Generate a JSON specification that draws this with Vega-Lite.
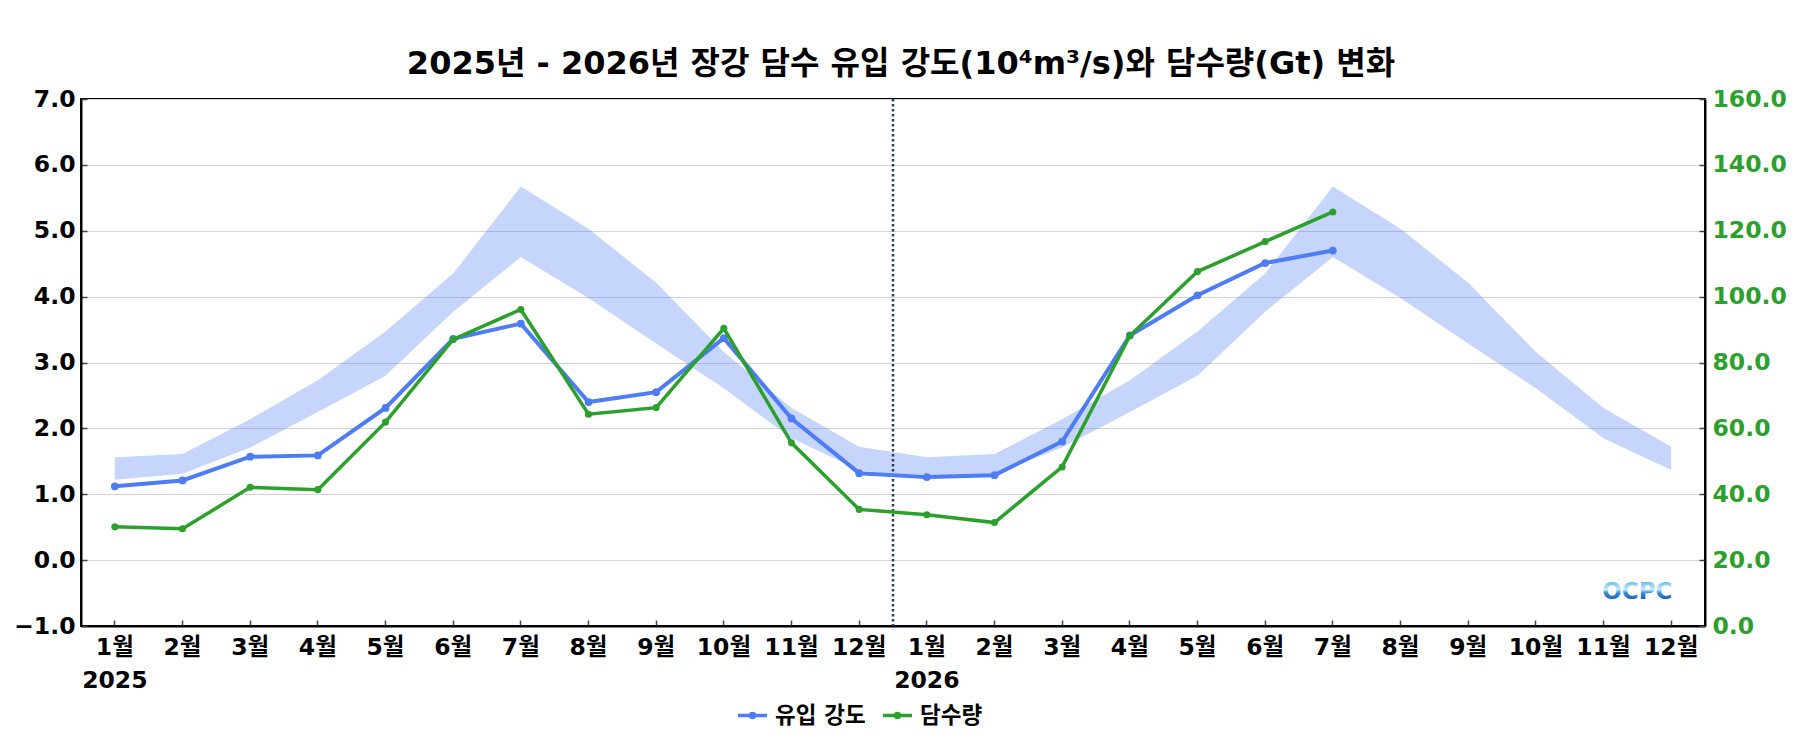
{
  "$schema": "https://vega.github.io/schema/vega-lite/v6.json",
  "width": 1624,
  "height": 527,
  "autosize": {"type": "none"},
  "padding": {"left": 81, "top": 99, "right": 95, "bottom": 124},
  "background": "white",
  "title": {
    "text": "2025년 - 2026년 장강 담수 유입 강도(10⁴m³/s)와 담수량(Gt) 변화",
    "font": "DejaVu Sans, Noto Sans CJK KR",
    "fontSize": 32,
    "fontWeight": "bold",
    "color": "black",
    "anchor": "middle",
    "frame": "group",
    "offset": 6,
    "dx": 8
  },
  "config": {
    "view": {"stroke": "black", "strokeWidth": 2},
    "font": "DejaVu Sans, Noto Sans CJK KR",
    "axis": {
      "labelFont": "DejaVu Sans, Noto Sans CJK KR",
      "labelFontSize": 23.5,
      "labelFontWeight": "bold",
      "labelColor": "black",
      "domainColor": "black",
      "domainWidth": 2,
      "tickColor": "#444",
      "tickWidth": 1.5,
      "tickSize": -6,
      "title": null
    },
    "legend": {
      "labelFont": "DejaVu Sans, Noto Sans CJK KR",
      "labelFontSize": 22.5,
      "labelFontWeight": "bold",
      "labelColor": "black"
    }
  },
  "data": {
    "values": [
      {"m": "2025-01", "lo": 1.22, "hi": 1.56, "flow": 1.12, "fw": 30.1},
      {"m": "2025-02", "lo": 1.31, "hi": 1.61, "flow": 1.21, "fw": 29.5},
      {"m": "2025-03", "lo": 1.71, "hi": 2.14, "flow": 1.57, "fw": 42.1},
      {"m": "2025-04", "lo": 2.25, "hi": 2.73, "flow": 1.59, "fw": 41.4},
      {"m": "2025-05", "lo": 2.8, "hi": 3.47, "flow": 2.31, "fw": 61.9},
      {"m": "2025-06", "lo": 3.77, "hi": 4.35, "flow": 3.36, "fw": 87.0},
      {"m": "2025-07", "lo": 4.6, "hi": 5.67, "flow": 3.59, "fw": 96.1},
      {"m": "2025-08", "lo": 3.98, "hi": 5.03, "flow": 2.4, "fw": 64.3},
      {"m": "2025-09", "lo": 3.29, "hi": 4.21, "flow": 2.55, "fw": 66.3},
      {"m": "2025-10", "lo": 2.61, "hi": 3.16, "flow": 3.37, "fw": 90.4},
      {"m": "2025-11", "lo": 1.85, "hi": 2.31, "flow": 2.15, "fw": 55.6},
      {"m": "2025-12", "lo": 1.37, "hi": 1.72, "flow": 1.32, "fw": 35.4},
      {"m": "2026-01", "lo": 1.22, "hi": 1.56, "flow": 1.26, "fw": 33.8},
      {"m": "2026-02", "lo": 1.31, "hi": 1.61, "flow": 1.29, "fw": 31.4},
      {"m": "2026-03", "lo": 1.71, "hi": 2.14, "flow": 1.8, "fw": 48.3},
      {"m": "2026-04", "lo": 2.25, "hi": 2.73, "flow": 3.41, "fw": 88.1},
      {"m": "2026-05", "lo": 2.8, "hi": 3.47, "flow": 4.02, "fw": 107.6},
      {"m": "2026-06", "lo": 3.77, "hi": 4.35, "flow": 4.51, "fw": 116.7},
      {"m": "2026-07", "lo": 4.6, "hi": 5.67, "flow": 4.7, "fw": 125.7},
      {"m": "2026-08", "lo": 3.98, "hi": 5.03, "flow": null, "fw": null},
      {"m": "2026-09", "lo": 3.29, "hi": 4.21, "flow": null, "fw": null},
      {"m": "2026-10", "lo": 2.61, "hi": 3.16, "flow": null, "fw": null},
      {"m": "2026-11", "lo": 1.85, "hi": 2.31, "flow": null, "fw": null},
      {"m": "2026-12", "lo": 1.37, "hi": 1.72, "flow": null, "fw": null}
    ]
  },
  "layer": [
    {
      "layer": [
        {
          "mark": {"type": "area", "color": "#4d7cf4", "opacity": 0.32},
          "encoding": {
            "x": {
              "field": "m",
              "type": "ordinal",
              "bandPosition": 0.5,
              "scale": {"type": "band", "paddingInner": 0, "paddingOuter": 0},
              "axis": {
                "labelAngle": 0,
                "labelBaseline": "top",
                "labelPadding": 15,
                "labelLineHeight": 33,
                "grid": false,
                "labelExpr": "slice(datum.value, 5, 7) == '01' ? [toNumber(slice(datum.value, 5, 7)) + '월', slice(datum.value, 0, 4)] : toNumber(slice(datum.value, 5, 7)) + '월'"
              }
            },
            "y": {
              "field": "lo",
              "type": "quantitative",
              "scale": {"domain": [-1, 7], "nice": false, "zero": false},
              "axis": {
                "values": [-1, 0, 1, 2, 3, 4, 5, 6, 7],
                "format": ".1f",
                "grid": true,
                "gridColor": "#d3d3d3",
                "gridWidth": 1.2,
                "labelPadding": 12
              }
            },
            "y2": {"field": "hi"}
          }
        },
        {
          "data": {"values": [{"cut": "2026-01"}]},
          "mark": {"type": "rule", "color": "#2a3f5f", "strokeDash": [2.5, 2.5], "strokeWidth": 2.5},
          "encoding": {
            "x": {"field": "cut", "type": "ordinal", "bandPosition": 0}
          }
        },
        {
          "mark": {"type": "line", "strokeWidth": 4, "point": {"filled": true, "size": 60}},
          "encoding": {
            "x": {"field": "m", "type": "ordinal", "bandPosition": 0.5},
            "y": {"field": "flow", "type": "quantitative"},
            "color": {
              "datum": "유입 강도",
              "scale": {"domain": ["유입 강도", "담수량"], "range": ["#4d7cf4", "#2ca02c"]},
              "legend": {
                "title": null,
                "orient": "none",
                "legendX": 655,
                "legendY": 600,
                "direction": "horizontal",
                "symbolType": "M-1,0L1,0M-0.14,0A0.14,0.14,0,1,0,0.14,0A0.14,0.14,0,1,0,-0.14,0Z",
                "symbolSize": 841,
                "symbolStrokeWidth": 3.5,
                "labelOffset": 6,
                "columnPadding": 10
              }
            }
          }
        },
        {
          "data": {"values": [{"t": "OCPC", "at": "2026-12", "v": -0.48}]},
          "mark": {
            "type": "text",
            "font": "DejaVu Sans",
            "fontSize": 23,
            "fontWeight": "bold",
            "color": {
              "gradient": "linear",
              "x1": 0, "y1": 0, "x2": 0, "y2": 1,
              "stops": [
                {"offset": 0, "color": "#3aa3e0"},
                {"offset": 0.45, "color": "#c8ecfa"},
                {"offset": 0.58, "color": "#3b8ed6"},
                {"offset": 1, "color": "#0b3d91"}
              ]
            }
          },
          "encoding": {
            "text": {"field": "t"},
            "x": {"field": "at", "type": "ordinal", "bandPosition": 0},
            "y": {"field": "v", "type": "quantitative"}
          }
        }
      ]
    },
    {
      "mark": {"type": "line", "strokeWidth": 3.5, "point": {"filled": true, "size": 50}},
      "encoding": {
        "x": {"field": "m", "type": "ordinal", "bandPosition": 0.5},
        "y": {
          "field": "fw",
          "type": "quantitative",
          "scale": {"domain": [0, 160], "nice": false, "zero": false},
          "axis": {
            "orient": "right",
            "values": [0, 20, 40, 60, 80, 100, 120, 140, 160],
            "format": ".1f",
            "grid": false,
            "labelColor": "#2ca02c",
            "labelPadding": 13
          }
        },
        "color": {"datum": "담수량"}
      }
    }
  ],
  "resolve": {"scale": {"y": "independent"}}
}
